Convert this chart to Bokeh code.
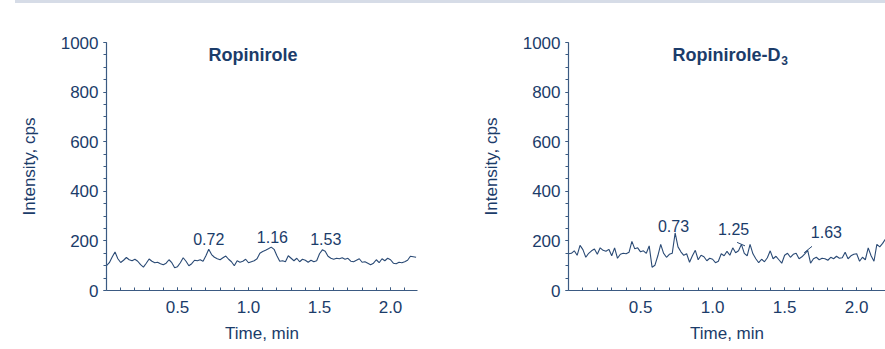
import numpy as np
from bokeh.plotting import figure
from bokeh.layouts import row, column
from bokeh.models import FixedTicker, Range1d, NumeralTickFormatter, Spacer
from bokeh.core.properties import value
from bokeh.embed import file_html
from bokeh.resources import INLINE

# ---------------- data ----------------
sample_step_min = 0.02

ropinirole_intensity = [
    100, 112, 135, 155, 128, 113, 122, 133, 124, 120,
    126, 118, 104, 94, 110, 127, 118, 112, 114, 108,
    104, 110, 124, 112, 92, 96, 112, 132, 118, 100,
    108, 122, 120, 124, 118, 140, 166, 145, 134, 128,
    124, 132, 139, 126, 116, 100, 120, 114, 118, 126,
    112, 116, 120, 128, 150, 157, 162, 168, 175, 166,
    140, 118, 120, 116, 140, 130, 120, 130, 116, 126,
    122, 114, 122, 116, 120, 148, 164, 158, 138, 130,
    126, 130, 128, 132, 126, 130, 118, 116, 122, 128,
    114, 116, 110, 104, 110, 124, 112, 128, 120, 130,
    124, 110, 108, 114, 112, 116, 122, 138, 136, 134,
]

ropinirole_d3_intensity = [
    148, 150, 160, 142, 182, 165, 134, 150, 160, 167,
    146, 172, 162, 158, 166, 140, 172, 130, 146, 150,
    148, 154, 198, 168, 172, 156, 160, 150, 180, 94,
    102, 140, 186, 150, 134, 146, 150, 232, 176, 156,
    142, 148, 114, 140, 162, 124, 142, 136, 120, 130,
    126, 112, 118, 148, 140, 158, 142, 172, 152, 160,
    186, 150, 140, 186, 148, 128, 112, 126, 116, 132,
    160, 128, 138, 124, 110, 142, 150, 134, 146, 150,
    128, 136, 148, 162, 110, 128, 134, 124, 130, 128,
    122, 134, 128, 138, 130, 132, 154, 128, 140, 146,
    148, 118, 134, 124, 172, 140, 118, 186, 176, 190,
    208,
]

ropinirole_peaks = ["0.72", "1.16", "1.53"]
ropinirole_d3_peaks = ["0.73", "1.25", "1.63"]

x_tick_labels = [0.5, 1.0, 1.5, 2.0]
y_tick_labels = [0, 200, 400, 600, 800, 1000]

# ---------------- styling ----------------
NAVY = "#1b3c6a"
AXIS = "#3b5a82"
TRACE = "#2a4a75"
BAND = "#d6dce7"
FONT = "Liberation Sans"


def times(values):
    return np.round(np.arange(len(values)) * sample_step_min, 3)


def make_panel(width, border_left, border_right, x_end):
    p = figure(width=width, height=342,
               x_range=Range1d(0, x_end), y_range=Range1d(0, 1000),
               output_backend="svg", toolbar_location=None,
               min_border_left=border_left, min_border_right=border_right,
               min_border_top=39, min_border_bottom=53)
    p.outline_line_color = None
    p.grid.visible = False
    p.background_fill_color = "white"
    p.border_fill_color = "white"

    xa = p.xaxis[0]
    xa.ticker = FixedTicker(ticks=x_tick_labels,
                            minor_ticks=[round(0.1 * i, 1) for i in range(1, 22)])
    xa.formatter = NumeralTickFormatter(format="0.0")
    xa.axis_label = "Time, min"
    xa.major_tick_in = 3
    xa.major_tick_out = 0
    xa.minor_tick_in = 3
    xa.minor_tick_out = 0
    xa.major_label_standoff = 10
    xa.axis_label_standoff = 8

    ya = p.yaxis[0]
    ya.ticker = FixedTicker(ticks=y_tick_labels,
                            minor_ticks=list(range(0, 1001, 50)))
    ya.axis_label = "Intensity, cps"
    ya.major_tick_in = 0
    ya.major_tick_out = 3
    ya.minor_tick_in = 0
    ya.minor_tick_out = 3
    ya.major_label_standoff = 5
    ya.axis_label_standoff = 19

    for ax in (xa, ya):
        ax.axis_line_color = AXIS
        ax.axis_line_width = 1.2
        ax.major_tick_line_color = AXIS
        ax.minor_tick_line_color = AXIS
        ax.major_label_text_font = FONT
        ax.major_label_text_font_size = "17px"
        ax.major_label_text_color = NAVY
        ax.axis_label_text_font = FONT
        ax.axis_label_text_font_size = "17px"
        ax.axis_label_text_font_style = "normal"
        ax.axis_label_text_color = NAVY
    return p


# ---------------- left panel: Ropinirole ----------------
p1 = make_panel(460, 106, 43, 2.19)
p1.line(times(ropinirole_intensity), ropinirole_intensity,
        line_color=TRACE, line_width=1.1)
p1.text(x=[0.72, 1.168, 1.544], y=[208, 216, 208], text=ropinirole_peaks,
        text_align="center", text_baseline="alphabetic",
        text_font=value(FONT), text_font_size="16px", text_color=NAVY)
p1.text(x=[1.031], y=[948], text=["Ropinirole"],
        text_align="center", text_baseline="alphabetic",
        text_font=value(FONT), text_font_size="18px",
        text_font_style="bold", text_color=NAVY)

# ---------------- right panel: Ropinirole-D3 ----------------
p2 = make_panel(425, 108, 0, 2.2)
p2.line(times(ropinirole_d3_intensity), ropinirole_d3_intensity,
        line_color=TRACE, line_width=1.1)
p2.text(x=[0.729, 1.146, 1.79], y=[260, 248, 235], text=ropinirole_d3_peaks,
        text_align="center", text_baseline="alphabetic",
        text_font=value(FONT), text_font_size="16px", text_color=NAVY)
p2.segment(x0=[1.17, 1.635], y0=[194, 152], x1=[1.225, 1.69], y1=[180, 178],
           line_color=TRACE, line_width=1)
p2.text(x=[1.472], y=[948], text=["Ropinirole-D"],
        text_align="right", text_baseline="alphabetic",
        text_font=value(FONT), text_font_size="18px",
        text_font_style="bold", text_color=NAVY)
p2.text(x=[1.476], y=[926], text=["3"],
        text_align="left", text_baseline="alphabetic",
        text_font=value(FONT), text_font_size="12px",
        text_font_style="bold", text_color=NAVY)

band = Spacer(width=870, height=3, margin=(0, 0, 0, 15),
              styles={"background-color": BAND})
layout = column(band, row(p1, p2))
open("out.html", "w").write(file_html(layout, INLINE))
